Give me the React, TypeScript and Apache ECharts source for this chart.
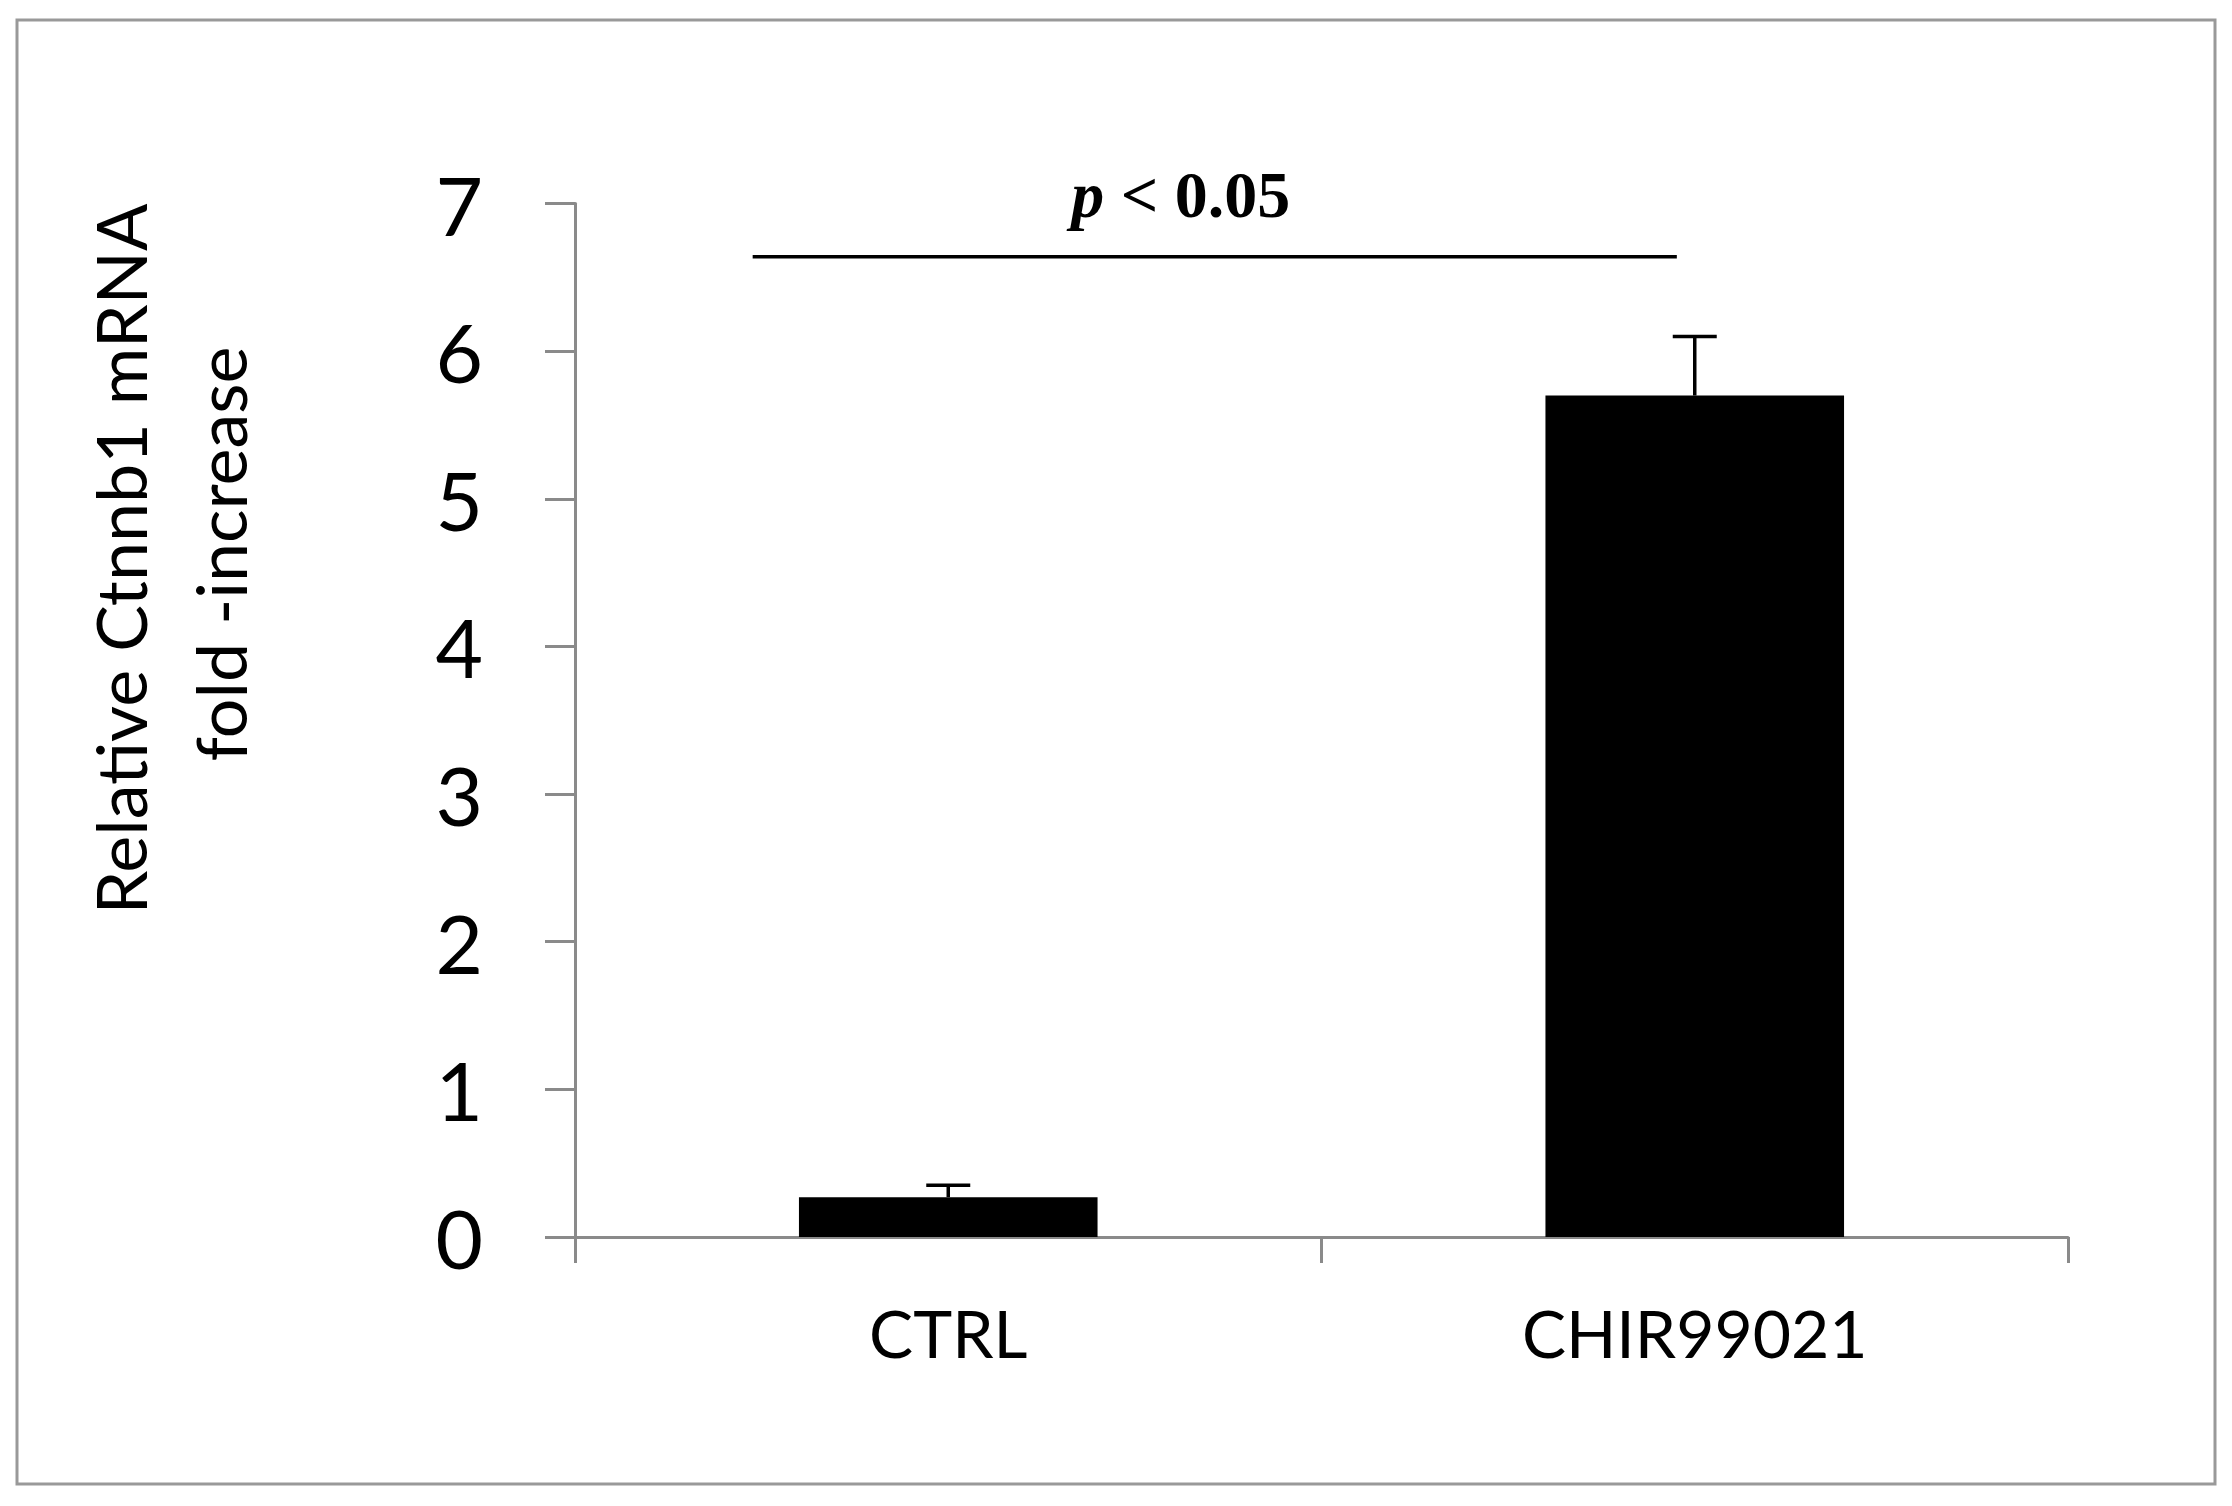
import React, { useEffect, useRef } from "react";
import * as echarts from "echarts";

const categories = ["CTRL", "CHIR99021"];
const meanValues = [0.27, 5.7];
const upperValues = [0.35, 6.1];
const yTicks = { min: 0, max: 7, interval: 1 };
const significance = { from: 0, to: 1, lineValue: 6.64, textValue: 7.06, label: "p < 0.05" };
const yTitleLines = ["Relative Ctnnb1 mRNA", "fold -increase"];

export default function App() {
  const ref = useRef<HTMLDivElement>(null);
  useEffect(() => {
    if (!ref.current) return;
    const chart = echarts.init(ref.current, null, { renderer: "svg" });
    const axisGray = "#8a8a8a";
    const option: any = {
      animation: false,
      backgroundColor: "#ffffff",
      grid: { left: 575, right: 164, top: 203.6, bottom: 269, containLabel: false },
      xAxis: {
        type: "category",
        data: categories,
        axisLine: { lineStyle: { color: axisGray, width: 3 } },
        axisTick: { show: true, length: 26, lineStyle: { color: axisGray, width: 3 } },
        axisLabel: { color: "#000", fontFamily: "Lato", fontSize: 66, margin: 62 },
        splitLine: { show: false },
      },
      yAxis: {
        type: "value",
        min: yTicks.min,
        max: yTicks.max,
        interval: yTicks.interval,
        axisLine: { show: true, lineStyle: { color: axisGray, width: 3 } },
        axisTick: { show: true, length: 30, lineStyle: { color: axisGray, width: 3 } },
        axisLabel: { color: "#000", fontFamily: "Lato", fontSize: 82, margin: 92 },
        splitLine: { show: false },
      },
      graphic: [
        {
          type: "rect",
          shape: { x: 17, y: 20, width: 2198, height: 1464 },
          style: { fill: "none", stroke: "#999999", lineWidth: 3 },
          silent: true,
        },
        {
          type: "text",
          x: 120,
          y: 559,
          rotation: Math.PI / 2,
          style: {
            text: yTitleLines[0],
            fontFamily: "Lato",
            fontSize: 70,
            fill: "#000",
            align: "center",
            verticalAlign: "middle",
          },
        },
        {
          type: "text",
          x: 220,
          y: 554,
          rotation: Math.PI / 2,
          style: {
            text: yTitleLines[1],
            fontFamily: "Lato",
            fontSize: 70,
            fill: "#000",
            align: "center",
            verticalAlign: "middle",
          },
        },
      ],
      series: [
        {
          type: "bar",
          data: meanValues,
          barWidth: "40%",
          itemStyle: { color: "#000000" },
        },
        {
          type: "custom",
          data: categories.map((_, i) => [i, meanValues[i], upperValues[i]]),
          encode: { x: 0, y: [1, 2] },
          z: 5,
          renderItem: (params: any, api: any) => {
            const base = api.coord([api.value(0), api.value(1)]);
            const top = api.coord([api.value(0), api.value(2)]);
            const half = 22;
            const style = { stroke: "#000", lineWidth: 3.5 };
            return {
              type: "group",
              children: [
                { type: "line", shape: { x1: base[0], y1: base[1], x2: top[0], y2: top[1] }, style },
                { type: "line", shape: { x1: top[0] - half, y1: top[1], x2: top[0] + half, y2: top[1] }, style },
              ],
            };
          },
        },
        {
          type: "custom",
          data: [[significance.from, significance.to, significance.lineValue, significance.textValue]],
          encode: { x: [0, 1], y: [2, 3] },
          clip: false,
          z: 5,
          renderItem: (params: any, api: any) => {
            const band = api.size([1, 0])[0];
            const a = api.coord([api.value(0), api.value(2)]);
            const b = api.coord([api.value(1), api.value(2)]);
            const t = api.coord([api.value(0), api.value(3)]);
            const x1 = a[0] - 0.262 * band;
            const x2 = b[0] - 0.024 * band;
            return {
              type: "group",
              children: [
                {
                  type: "line",
                  shape: { x1, y1: a[1], x2, y2: a[1] },
                  style: { stroke: "#000", lineWidth: 3.5 },
                },
                {
                  type: "text",
                  x: (x1 + x2) / 2 - 34,
                  y: t[1],
                  style: {
                    text: "{i|p}{n| < 0.05}",
                    align: "center",
                    verticalAlign: "middle",
                    rich: {
                      i: { fontFamily: "Liberation Serif", fontStyle: "italic", fontWeight: "bold", fontSize: 66, fill: "#000" },
                      n: { fontFamily: "Liberation Serif", fontWeight: "bold", fontSize: 66, fill: "#000" },
                    },
                  },
                },
              ],
            };
          },
        },
      ],
    };
    chart.setOption(option);
    return () => chart.dispose();
  }, []);
  return (
    <div
      ref={ref}
      style={{ position: "absolute", left: 0, top: 0, width: 2232, height: 1506, background: "#fff" }}
    />
  );
}
